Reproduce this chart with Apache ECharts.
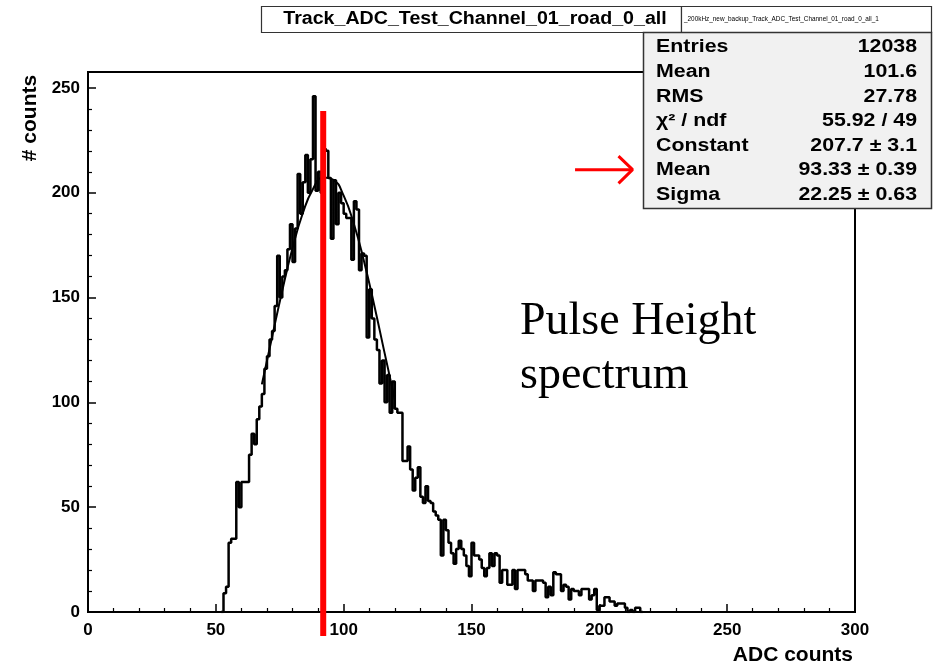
<!DOCTYPE html>
<html>
<head>
<meta charset="utf-8">
<script src="https://cdn.jsdelivr.net/npm/echarts@6/dist/echarts.min.js"></script>
<style>
html,body{margin:0;padding:0;background:#fff;}
#chart{width:933px;height:669px;}
</style>
</head>
<body>
<div id="chart"></div>
<script>
// ---- data ----
const histStart = 52;      // low edge of first bin (ADC)
const binWidth = 1;
const counts = [0, 9,12,33,35,35,62,50,62,62,62,75,85,80,92,98,104,116,122,130,134,146,170,150,160,163,173,185,167,183,209,190,205,218,200,216,246,201,210,200,221,220,207,178,206,185,200,195,190,188,188,168,196,192,163,171,170,131,154,140,130,125,109,120,100,113,95,110,97,95,95,72,72,79,68,58,64,69,55,52,60,53,52,48,46,44,27,44,39,33,28,23,30,34,30,27,22,17,33,27,27,25,21,17,21,28,22,28,27,14,20,20,13,13,20,11,20,20,20,18,15,15,10,15,15,15,14,7,12,8,19,18,18,10,13,12,6,11,10,10,8,11,11,11,6,8,11,1,3,3,7,7,5,5,3,4,4,4,2,0,1,0,2,2,0];
const fitX = [68,72,76,80,84,88,92,96,100,104,108,112,116,120];
const fitY = [108.6,131.2,153.4,173.6,190.2,201.8,207.3,206.2,198.6,185.1,167.1,146.1,123.6,101.3];
const markerLine = [[92,-11.5],[92,239]];
const arrowShaft = [[190.5,211],[212.5,211]];
const arrowHead = [[207.5,217.5],[213,211],[207.5,204.5]];
const xTicks = [0,50,100,150,200,250,300];
const yTicks = [0,50,100,150,200,250];
const titleText = 'Track_ADC_Test_Channel_01_road_0_all';
const subTitleText = '_200kHz_new_backup_Track_ADC_Test_Channel_01_road_0_all_1';
const statLabels = ['Entries','Mean','RMS','χ\u00b2 / ndf','Constant','Mean','Sigma'];
const statValues = ['12038','101.6','27.78','55.92 / 49','207.7 \u00b1 3.1','93.33 \u00b1 0.39','22.25 \u00b1 0.63'];
const annotLines = ['Pulse Height','spectrum'];

// ---- build ----
const histData = counts.map((c,i)=>[histStart + i*binWidth, c]);
histData.push([histStart + counts.length*binWidth, 0]);
const fitData = fitX.map((x,i)=>[x, fitY[i]]);

const FONT = '"Liberation Sans", Arial, Helvetica, sans-serif';
const chart = echarts.init(document.getElementById('chart'));

const graphics = [
  {type:'rect', shape:{x:261.5,y:6.5,width:420,height:26}, style:{fill:'#fff',stroke:'#333',lineWidth:1.2}, z:100},
  {type:'text', x:475, y:19.5, scaleX:1.09, style:{text:titleText, font:'bold 18px '+FONT, fill:'#000', textAlign:'center', textVerticalAlign:'middle'}, z:101},
  {type:'rect', shape:{x:681.5,y:6.5,width:250,height:26}, style:{fill:'#fff',stroke:'#333',lineWidth:1.2}, z:100},
  {type:'text', x:684, y:19.5, style:{text:subTitleText, font:'6.4px '+FONT, fill:'#000', textAlign:'left', textVerticalAlign:'middle'}, z:101},
  {type:'rect', shape:{x:643.5,y:32.5,width:288,height:176}, style:{fill:'#f1f1f1',stroke:'#333',lineWidth:1.5}, z:100}
];
statLabels.forEach((lab,i)=>{
  const y = 47.5 + i*24.6;
  graphics.push({type:'text', x:656, y:y, scaleX:1.22, style:{text:lab, font:'bold 17.5px '+FONT, fill:'#000', textAlign:'left', textVerticalAlign:'middle'}, z:101});
  graphics.push({type:'text', x:917, y:y, scaleX:1.22, style:{text:statValues[i], font:'bold 17.5px '+FONT, fill:'#000', textAlign:'right', textVerticalAlign:'middle'}, z:101});
});
graphics.push({type:'text', x:520, y:322, style:{text:annotLines[0], font:'46px "Liberation Serif", "Times New Roman", serif', fill:'#000', textAlign:'left', textVerticalAlign:'middle'}, z:50});
graphics.push({type:'text', x:520, y:376, style:{text:annotLines[1], font:'46px "Liberation Serif", "Times New Roman", serif', fill:'#000', textAlign:'left', textVerticalAlign:'middle'}, z:50});
graphics.push({type:'text', x:30, y:118, rotation:Math.PI/2, style:{text:'# counts', font:'bold 21px '+FONT, fill:'#000', textAlign:'center', textVerticalAlign:'middle'}, z:50});
graphics.push({type:'text', x:853, y:655, style:{text:'ADC counts', font:'bold 21px '+FONT, fill:'#000', textAlign:'right', textVerticalAlign:'middle'}, z:50});

const axisCommon = {
  type:'value',
  splitLine:{show:false},
  axisLine:{show:true, onZero:false, lineStyle:{color:'#000', width:2}},
  axisTick:{show:true, inside:true, length:8, lineStyle:{color:'#000', width:1.5}},
  minorTick:{show:true, splitNumber:5, length:4, lineStyle:{color:'#000', width:1.2}},
  axisLabel:{color:'#000', fontSize:17, fontWeight:'bold', fontFamily:FONT}
};

chart.setOption({
  animation:false,
  backgroundColor:'#fff',
  grid:{left:88, right:78, top:72, bottom:57, show:true, borderColor:'#000', borderWidth:2, backgroundColor:'transparent'},
  xAxis:Object.assign({}, axisCommon, {min:xTicks[0], max:xTicks[xTicks.length-1], interval:50,
    axisLabel:Object.assign({}, axisCommon.axisLabel, {margin:10})}),
  yAxis:Object.assign({}, axisCommon, {min:0, max:257.6, interval:50,
    axisLabel:Object.assign({}, axisCommon.axisLabel, {margin:8, showMaxLabel:false})}),
  graphic:graphics,
  series:[
    {type:'line', data:fitData, smooth:true, showSymbol:false, lineStyle:{color:'#000', width:2}, z:2},
    {type:'line', data:histData, step:'end', showSymbol:false, lineStyle:{color:'#000', width:2.5}, z:3},
    {type:'line', data:markerLine, showSymbol:false, clip:false, lineStyle:{color:'#ff0000', width:6, cap:'butt'}, z:4},
    {type:'line', data:arrowShaft, showSymbol:false, clip:false, lineStyle:{color:'#ff0000', width:3}, z:4},
    {type:'line', data:arrowHead, showSymbol:false, clip:false, lineStyle:{color:'#ff0000', width:3}, z:4}
  ]
});
</script>
</body>
</html>
